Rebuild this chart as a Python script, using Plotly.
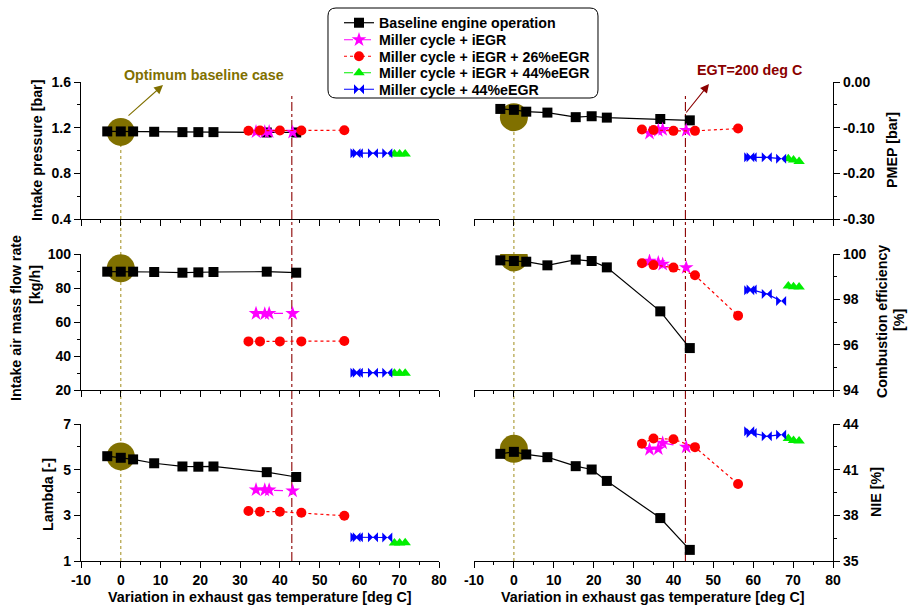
import plotly.graph_objects as go

# ---------------- data ----------------
x_base = [-3.4, 0.0, 3.1, 8.4, 15.5, 19.5, 23.3, 36.7, 44.1]
x_iegr = [34.0, 36.2, 37.3, 43.2]
x_26 = [32.1, 35.0, 40.0, 45.4, 56.2]
x_44i = [68.8, 70.1, 71.5]
x_44 = [59.0, 59.6, 63.4, 67.0]

p_base = [1.167, 1.167, 1.167, 1.164, 1.161, 1.161, 1.161, 1.158, 1.158]
p_iegr = [1.164, 1.162, 1.164, 1.160]
p_26 = [1.173, 1.175, 1.175, 1.175, 1.178]
p_44i = [0.970, 0.970, 0.970]
p_44 = [0.977, 0.977, 0.977, 0.977]

pm_base = [-0.059, -0.061, -0.065, -0.067, -0.077, -0.075, -0.078, -0.081, -0.084]
pm_iegr = [-0.112, -0.106, -0.104, -0.106]
pm_26 = [-0.104, -0.105, -0.107, -0.107, -0.102]
pm_44i = [-0.168, -0.171, -0.174]
pm_44 = [-0.165, -0.165, -0.165, -0.168]

m_base = [89.6, 89.6, 89.6, 89.4, 89.0, 89.2, 89.4, 89.6, 89.0]
m_iegr = [65.0, 64.8, 65.1, 65.0]
m_26 = [48.6, 48.6, 48.6, 48.6, 48.8]
m_44i = [29.8, 29.8, 29.9]
m_44 = [30.2, 30.2, 30.2, 30.2]

ce_base = [99.72, 99.69, 99.66, 99.50, 99.75, 99.69, 99.41, 97.47, 95.85]
ce_iegr = [99.69, 99.62, 99.55, 99.40]
ce_26 = [99.59, 99.51, 99.40, 99.06, 97.28]
ce_44i = [98.59, 98.56, 98.54]
ce_44 = [98.40, 98.43, 98.24, 97.93]

l_base = [5.59, 5.52, 5.45, 5.28, 5.14, 5.13, 5.14, 4.89, 4.68]
l_iegr = [4.12, 4.11, 4.11, 4.07]
l_26 = [3.19, 3.16, 3.16, 3.11, 2.98]
l_44i = [1.79, 1.79, 1.80]
l_44 = [2.04, 2.04, 2.04, 2.03]

n_base = [42.04, 42.17, 42.00, 41.82, 41.23, 41.01, 40.26, 37.82, 35.73]
n_iegr = [42.33, 42.37, 42.75, 42.48]
n_26 = [42.70, 43.05, 43.00, 42.48, 40.06]
n_44i = [43.05, 42.92, 42.88]
n_44 = [43.52, 43.41, 43.19, 43.30]

opt_x = 0.0
opt_y = [1.163, -0.077, 91.6, 99.85, 5.58, 42.37]
egt_limit = 43.0

# tick values and labels
x_tick_vals = [-10, 0, 10, 20, 30, 40, 50, 60, 70, 80]
x_tick_text = ["-10", "0", "10", "20", "30", "40", "50", "60", "70", "80"]
p_tick_vals = [0.4, 0.8, 1.2, 1.6]
p_tick_text = ["0.4", "0.8", "1.2", "1.6"]
pm_tick_vals = [-0.3, -0.2, -0.1, 0.0]
pm_tick_text = ["-0.30", "-0.20", "-0.10", "0.00"]
m_tick_vals = [20, 40, 60, 80, 100]
m_tick_text = ["20", "40", "60", "80", "100"]
ce_tick_vals = [94, 96, 98, 100]
ce_tick_text = ["94", "96", "98", "100"]
l_tick_vals = [1, 3, 5, 7]
l_tick_text = ["1", "3", "5", "7"]
n_tick_vals = [35, 38, 41, 44]
n_tick_text = ["35", "38", "41", "44"]

series_names = ["Baseline engine operation", "Miller cycle + iEGR",
                "Miller cycle + iEGR + 26%eEGR", "Miller cycle + iEGR + 44%eEGR",
                "Miller cycle + 44%eEGR"]
x_sets = [x_base, x_iegr, x_26, x_44i, x_44]
panel_data = [
    [p_base, p_iegr, p_26, p_44i, p_44],
    [pm_base, pm_iegr, pm_26, pm_44i, pm_44],
    [m_base, m_iegr, m_26, m_44i, m_44],
    [ce_base, ce_iegr, ce_26, ce_44i, ce_44],
    [l_base, l_iegr, l_26, l_44i, l_44],
    [n_base, n_iegr, n_26, n_44i, n_44],
]

# ---------------- styling ----------------
W, H = 908, 609
FONT = "Liberation Sans, Arial, sans-serif"
OLIVE = "#807000"
DARKRED = "#8b0000"
styles = [
    dict(color="black", dash="solid", symbol="square", size=10),
    dict(color="#ff00ff", dash="dash", symbol="star", size=11),
    dict(color="#ff0000", dash="dot", symbol="circle", size=10),
    dict(color="#00ee00", dash="dashdot", symbol="triangle-up", size=10),
    dict(color="#0000ff", dash="solid", symbol="bowtie", size=10),
]
legend_rows_px = [23, 40, 56.5, 73, 89.5]


def px_x(p):
    return p / W


def px_y(p):
    return 1 - p / H


xdom_left = [px_x(81), px_x(439)]
xdom_right = [px_x(474), px_x(833)]
ydoms = [[px_y(219), px_y(82)], [px_y(390), px_y(254)], [px_y(561), px_y(424)]]

fig = go.Figure()
legend_ids = ["legend", "legend2", "legend3", "legend4", "legend5"]

for i in range(6):
    idx = "" if i == 0 else str(i + 1)
    xa, ya = "x" + idx, "y" + idx
    fig.add_trace(go.Scatter(x=[opt_x], y=[opt_y[i]], mode="markers",
                             marker=dict(size=28, color=OLIVE), showlegend=False,
                             xaxis=xa, yaxis=ya, hoverinfo="skip"))
    for s in range(5):
        st = styles[s]
        fig.add_trace(go.Scatter(
            x=x_sets[s], y=panel_data[i][s], mode="lines+markers",
            name=series_names[s], showlegend=(i == 0), legend=legend_ids[s],
            line=dict(color=st["color"], dash=st["dash"], width=1.2),
            marker=dict(symbol=st["symbol"], size=st["size"], color=st["color"],
                        line=dict(width=0)),
            xaxis=xa, yaxis=ya))

tickfont = dict(family=FONT, size=14, color="black", weight="bold")
yspecs = [
    dict(range=[0.4, 1.6], vals=p_tick_vals, text=p_tick_text, minor=0.2, tick0=0.4),
    dict(range=[-0.3, 0.0], vals=pm_tick_vals, text=pm_tick_text, minor=0.05, tick0=0.0),
    dict(range=[20, 100], vals=m_tick_vals, text=m_tick_text, minor=10, tick0=20),
    dict(range=[94, 100], vals=ce_tick_vals, text=ce_tick_text, minor=1, tick0=94),
    dict(range=[1, 7], vals=l_tick_vals, text=l_tick_text, minor=1, tick0=1),
    dict(range=[35, 44], vals=n_tick_vals, text=n_tick_text, minor=1.5, tick0=35),
]

layout = dict(width=W, height=H, margin=dict(l=0, r=0, t=0, b=0),
              paper_bgcolor="white", plot_bgcolor="white",
              font=dict(family=FONT, size=13, color="black"))

for i in range(6):
    row, col = divmod(i, 2)
    idx = "" if i == 0 else str(i + 1)
    xkey, ykey = "xaxis" + idx, "yaxis" + idx
    layout[xkey] = dict(
        domain=xdom_left if col == 0 else xdom_right,
        anchor="y" + idx, range=[-10, 80], tickmode="array",
        tickvals=x_tick_vals, ticktext=x_tick_text,
        showline=True, linecolor="black", linewidth=1.3, mirror=False,
        ticks="outside", ticklen=6, tickwidth=1.3, tickcolor="black",
        minor=dict(ticks="outside", ticklen=3, tickwidth=1.2, dtick=5, tick0=-10, tickcolor="black"),
        showgrid=False, zeroline=False, showticklabels=(row == 2),
        tickfont=tickfont, fixedrange=True, automargin=False)
    ys = yspecs[i]
    layout[ykey] = dict(
        domain=ydoms[row], anchor="x" + idx, side="left" if col == 0 else "right",
        range=ys["range"], tickmode="array", tickvals=ys["vals"], ticktext=ys["text"],
        showline=True, linecolor="black", linewidth=1.3,
        ticks="outside", ticklen=6, tickwidth=1.3, tickcolor="black",
        minor=dict(ticks="outside", ticklen=3, tickwidth=1.2, dtick=ys["minor"], tick0=ys["tick0"], tickcolor="black"),
        showgrid=False, zeroline=False, tickfont=tickfont, fixedrange=True, automargin=False)

# one single-entry legend per series, so that row spacing matches the reference
for s, lid in enumerate(legend_ids):
    layout[lid] = dict(
        x=px_x(339), y=px_y(legend_rows_px[s]), xanchor="left", yanchor="middle",
        bgcolor="rgba(0,0,0,0)", borderwidth=0,
        font=dict(family=FONT, size=14.2, color="black", weight="bold"))

fig.update_layout(**layout)

# ---------------- reference lines ----------------
shapes = []
top_left_circle_px = 132
top_right_circle_px = 118
shapes.append(dict(type="line", xref="x", yref="paper", x0=opt_x, x1=opt_x,
                   y0=px_y(561), y1=px_y(top_left_circle_px),
                   line=dict(color="#b0a040", width=1.2, dash="dot"), layer="below"))
shapes.append(dict(type="line", xref="x2", yref="paper", x0=opt_x, x1=opt_x,
                   y0=px_y(561), y1=px_y(top_right_circle_px),
                   line=dict(color="#b0a040", width=1.2, dash="dot"), layer="below"))
for xr in ["x", "x2"]:
    shapes.append(dict(type="line", xref=xr, yref="paper", x0=egt_limit, x1=egt_limit,
                       y0=px_y(561), y1=px_y(93),
                       line=dict(color=DARKRED, width=1.1, dash="dashdot"), layer="below"))

# rounded legend box
x0, x1, y0, y1, r = 328, 598, 8, 98, 8


def P(x, y):
    return f"{px_x(x):.5f},{px_y(y):.5f}"


path = (f"M {P(x0 + r, y0)} L {P(x1 - r, y0)} Q {P(x1, y0)} {P(x1, y0 + r)} "
        f"L {P(x1, y1 - r)} Q {P(x1, y1)} {P(x1 - r, y1)} L {P(x0 + r, y1)} "
        f"Q {P(x0, y1)} {P(x0, y1 - r)} L {P(x0, y0 + r)} Q {P(x0, y0)} {P(x0 + r, y0)} Z")
shapes.append(dict(type="path", xref="paper", yref="paper", path=path,
                   fillcolor="white", line=dict(color="black", width=1), layer="below"))
fig.update_layout(shapes=shapes)

# ---------------- annotations ----------------
ann = []
TS = 14.3


def txt(x, y, text, angle=0, color="black"):
    ann.append(dict(xref="paper", yref="paper", x=px_x(x), y=px_y(y), text=text,
                    showarrow=False, textangle=angle, xanchor="center", yanchor="middle",
                    font=dict(family=FONT, size=TS, color=color, weight="bold")))


txt(37, 151, "Intake pressure [bar]", -90)
txt(16, 318, "Intake air mass flow rate", -90)
txt(35, 285, "[kg/h]", -90)
txt(48, 495, "Lambda [-]", -90)
txt(892, 150, "PMEP [bar]", -90)
txt(882, 322, "Combustion efficiency", -90)
txt(899, 320, "[%]", -90)
txt(876, 492, "NIE [%]", -90)
txt(260, 597, "Variation in exhaust gas temperature [deg C]")
txt(653, 597, "Variation in exhaust gas temperature [deg C]")
txt(204, 75, "Optimum baseline case", color=OLIVE)
txt(749, 70, "EGT=200 deg C", color=DARKRED)

ann.append(dict(xref="paper", yref="paper", x=px_x(163), y=px_y(85), text="",
                showarrow=True, ax=-36, ay=32, arrowhead=2, arrowsize=1.6,
                arrowwidth=1.1, arrowcolor=OLIVE))
ann.append(dict(xref="paper", yref="paper", x=px_x(709), y=px_y(84), text="",
                showarrow=True, ax=-24, ay=30, arrowhead=2, arrowsize=1.6,
                arrowwidth=1.1, arrowcolor=DARKRED))
fig.update_layout(annotations=ann)

# the page's default 8px body margin would shift the figure; remove it
fig.write_html("out.html", config={"displayModeBar": False},
               post_script="document.body.style.margin='0';")
